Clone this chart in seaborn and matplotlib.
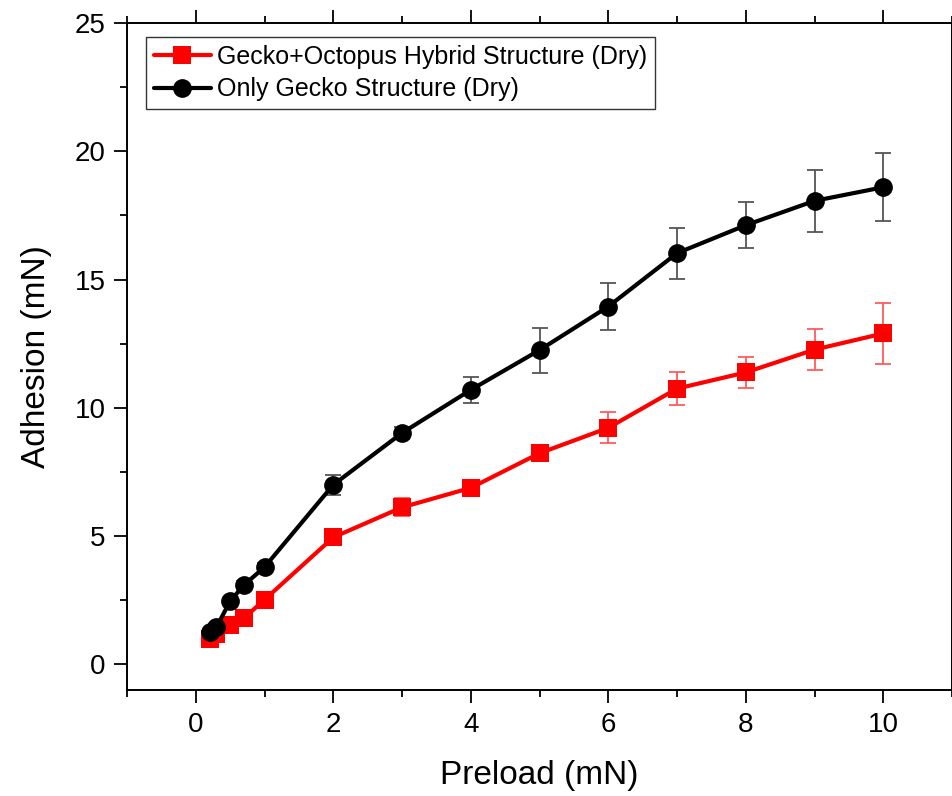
import numpy as np
import pandas as pd
import matplotlib
matplotlib.use("Agg")
import matplotlib.pyplot as plt
from matplotlib.ticker import MultipleLocator
import seaborn as sns

preload = [0.2, 0.3, 0.5, 0.7, 1, 2, 3, 4, 5, 6, 7, 8, 9, 10]
hybrid = [1.0, 1.2, 1.55, 1.8, 2.52, 4.95, 6.12, 6.88, 8.23, 9.22, 10.75, 11.38, 12.27, 12.9]
hybrid_err = [0.1, 0.12, 0.12, 0.15, 0.2, 0.2, 0.35, 0.28, 0.2, 0.6, 0.65, 0.6, 0.8, 1.2]
gecko = [1.25, 1.45, 2.46, 3.09, 3.79, 7.0, 9.02, 10.7, 12.25, 13.95, 16.03, 17.12, 18.07, 18.6]
gecko_err = [0.1, 0.12, 0.12, 0.15, 0.15, 0.38, 0.25, 0.5, 0.88, 0.93, 1.0, 0.9, 1.2, 1.33]
labels = ["Gecko+Octopus Hybrid Structure (Dry)", "Only Gecko Structure (Dry)"]
colors = ["#ff0000", "#000000"]
err_colors = ["#ff5a5a", "#555555"]
markers = ["s", "o"]

df = pd.DataFrame({
    "Preload": preload * 2,
    "Adhesion": hybrid + gecko,
    "Series": [labels[0]] * len(preload) + [labels[1]] * len(preload),
})

sns.set_theme(style="ticks")
plt.rcParams["font.family"] = ["Liberation Sans", "DejaVu Sans"]
plt.rcParams["text.color"] = "black"
plt.rcParams["axes.labelcolor"] = "black"
plt.rcParams["xtick.color"] = "black"
plt.rcParams["ytick.color"] = "black"

fig = plt.figure(figsize=(9.53, 7.96), dpi=100)
ax = fig.add_axes([0.1333, 0.1332, 0.8657, 0.8378])

for lab, err, ec in zip(labels, [hybrid_err, gecko_err], err_colors):
    sub = df[df["Series"] == lab]
    ax.errorbar(sub["Preload"], sub["Adhesion"], yerr=err, fmt="none",
                ecolor=ec, elinewidth=1.3, capsize=5.5, capthick=1.3, zorder=2)

sns.lineplot(data=df, x="Preload", y="Adhesion", hue="Series", style="Series",
             hue_order=labels, style_order=labels,
             palette=colors, markers=markers, dashes=False, linewidth=3.0,
             markersize=13.5, markeredgewidth=0, ax=ax, zorder=3)

ax.set_xlim(-1, 11)
ax.set_ylim(-1, 25)
ax.xaxis.set_major_locator(MultipleLocator(2))
ax.xaxis.set_minor_locator(MultipleLocator(1))
ax.yaxis.set_major_locator(MultipleLocator(5))
ax.yaxis.set_minor_locator(MultipleLocator(2.5))
ax.tick_params(which="both", direction="out", top=True, right=True,
               labeltop=False, labelright=False, color="black",
               labelcolor="black", width=1.3)
ax.tick_params(which="major", length=9.5, labelsize=20, pad=6)
ax.tick_params(which="minor", length=5)
for s in ax.spines.values():
    s.set_linewidth(1.4)
    s.set_color("black")

ax.set_xlabel("Preload (mN)", fontsize=24, labelpad=16, color="black")
ax.set_ylabel("Adhesion (mN)", fontsize=24, labelpad=16, color="black")

leg = ax.legend(loc="upper left", fontsize=18, frameon=True, fancybox=False,
                edgecolor="black", borderpad=0.3, borderaxespad=0,
                handlelength=2.3, handletextpad=0.25, labelspacing=0.35,
                bbox_to_anchor=(0.023, 0.979))
leg.get_frame().set_linewidth(1.0)
leg.set_title(None)
for t in leg.get_texts():
    t.set_color("black")

fig.savefig("out.png", dpi=100, facecolor="white")
